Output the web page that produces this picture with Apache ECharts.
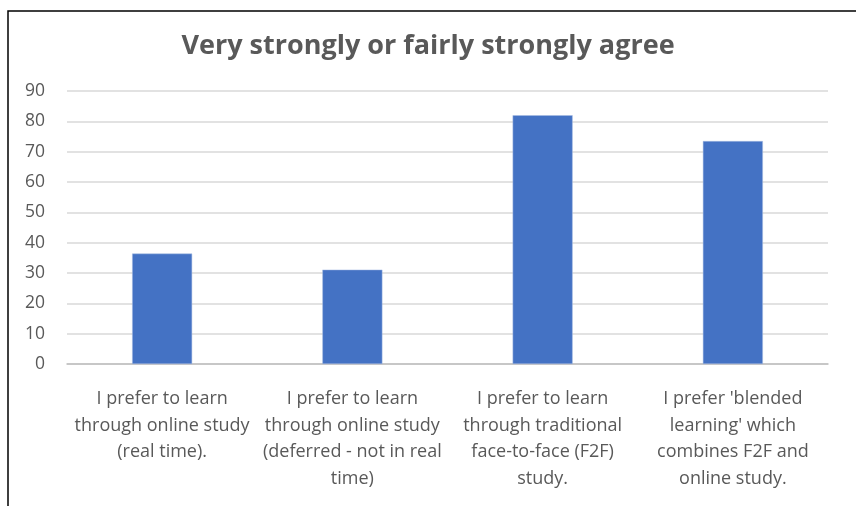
<!DOCTYPE html>
<html>
<head>
<meta charset="utf-8">
<script src="https://cdn.jsdelivr.net/npm/echarts@6/dist/echarts.min.js"></script>
<style>
  html, body { margin: 0; padding: 0; background: #fff; }
  #chart { width: 856px; height: 506px; }
</style>
</head>
<body>
<div id="chart"></div>
<script>
// 数据
var categories = [
    "I prefer to learn\nthrough online study\n(real time).",
    "I prefer to learn\nthrough online study\n(deferred - not in real\ntime)",
    "I prefer to learn\nthrough traditional\nface-to-face (F2F)\nstudy.",
    "I prefer 'blended\nlearning' which\ncombines F2F and\nonline study."
];
var agreeValues = [36.4, 31.1, 82.0, 73.5];
var yTicks = { min: 0, max: 90, interval: 10 };

var chart = echarts.init(document.getElementById('chart'));
var font = '"Open Sans", "Noto Sans", sans-serif';

var option = {
    backgroundColor: '#ffffff',
    animation: false,
    title: {
        text: 'Very strongly or fairly strongly agree',
        left: 'center',
        top: 28,
        textStyle: {
            color: '#595959',
            fontSize: 27,
            fontWeight: 'bold',
            fontFamily: font
        }
    },
    // 外框（只露出上边和左边）
    graphic: [{
        type: 'rect',
        shape: { x: 8, y: 11, width: 900, height: 600 },
        style: { fill: 'none', stroke: '#000000', lineWidth: 1.5 }
    }],
    grid: {
        left: 67,
        right: 28,
        top: 91,
        bottom: 142
    },
    xAxis: {
        type: 'category',
        data: categories,
        axisLine: { lineStyle: { color: '#bfbfbf', width: 1.5 } },
        axisTick: { show: false },
        axisLabel: {
            interval: 0,
            color: '#595959',
            fontSize: 18,
            fontFamily: font,
            lineHeight: 26.5,
            margin: 22
        }
    },
    yAxis: {
        type: 'value',
        min: yTicks.min,
        max: yTicks.max,
        interval: yTicks.interval,
        axisLine: { show: false },
        axisTick: { show: false },
        axisLabel: {
            color: '#595959',
            fontSize: 17.5,
            fontFamily: font,
            margin: 22
        },
        splitLine: { lineStyle: { color: '#d9d9d9', width: 1.5 } }
    },
    series: [{
        type: 'bar',
        data: agreeValues,
        barWidth: 60,
        itemStyle: {
            color: '#4472c4',
            borderColor: '#a9bde3',
            borderWidth: 0.5
        }
    }]
};

chart.setOption(option);
</script>
</body>
</html>
